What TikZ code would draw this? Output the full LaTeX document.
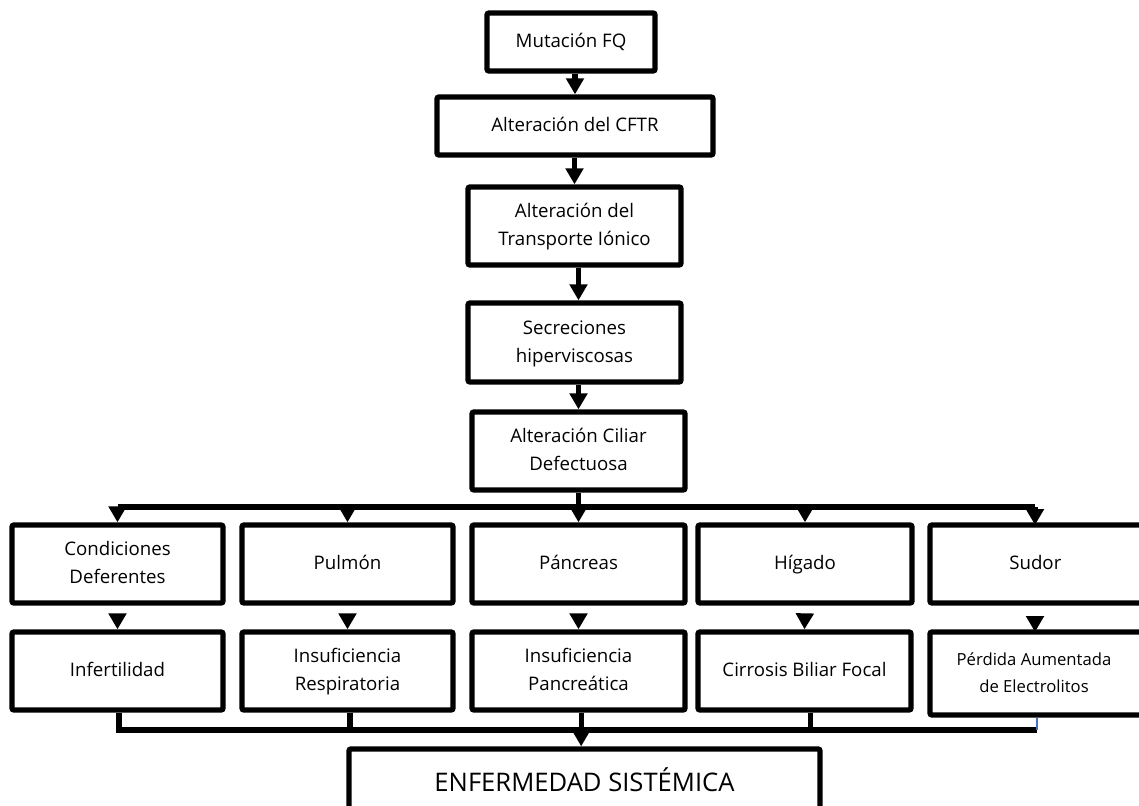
\documentclass[tikz,border=0pt]{standalone}
\usepackage{fontspec}
\setmainfont{Open Sans}
\usetikzlibrary{arrows.meta}
\begin{document}
\begin{tikzpicture}[x=0.75pt,y=-0.75pt,
  box/.style={draw=black,line width=4pt,rounded corners=1.5pt,fill=white,inner sep=0pt,align=center,
    font=\fontsize{14}{21}\selectfont},
  wire/.style={line width=3.8pt,draw=black},
  arr/.style={line width=3.8pt,draw=black,-{Triangle[width=13pt,length=12pt]}},
  thinblue/.style={line width=0.8pt,draw={rgb,255:red,68;green,114;blue,196}}
]
\useasboundingbox (0,0) rectangle (1139,806);
\clip (0,0) rectangle (1139,806);
% top chain
\node[box,minimum width=126pt,minimum height=43.5pt] (b1) at (571,42) {Mutación FQ\strut};
\node[box,minimum width=207pt,minimum height=43.5pt] (b2) at (575,126) {Alteración del CFTR\strut};
\node[box,minimum width=159.75pt,minimum height=58.5pt] (b3) at (574.5,226) {Alteración del\strut\\Transporte Iónico\strut};
\node[box,minimum width=159.75pt,minimum height=59.25pt] (b4) at (574.5,342.5) {Secreciones\strut\\hiperviscosas\strut};
\node[box,minimum width=159.75pt,minimum height=58.5pt] (b5) at (578.5,451) {Alteración Ciliar\strut\\Defectuosa\strut};
% row 1
\node[box,minimum width=158.25pt,minimum height=58.5pt] (c1) at (117.5,564) {Condiciones\strut\\Deferentes\strut};
\node[box,minimum width=158.25pt,minimum height=58.5pt] (c2) at (347.5,564) {Pulmón\strut};
\node[box,minimum width=159.75pt,minimum height=58.5pt] (c3) at (578.5,564) {Páncreas\strut};
\node[box,minimum width=160.5pt,minimum height=58.5pt] (c4) at (805,564) {Hígado\strut};
\node[box,minimum width=165pt,minimum height=58.5pt] (c5) at (1040,564) {\hspace*{-7pt}Sudor\strut};
% row 2
\node[box,minimum width=158.25pt,minimum height=58.5pt] (d1) at (117.5,671) {Infertilidad\strut};
\node[box,minimum width=158.25pt,minimum height=58.5pt] (d2) at (347.5,671) {Insuficiencia\strut\\Respiratoria\strut};
\node[box,minimum width=159.75pt,minimum height=58.5pt] (d3) at (578.5,671) {Insuficiencia\strut\\Pancreática\strut};
\node[box,minimum width=159.75pt,minimum height=58.5pt] (d4) at (804.5,671) {Cirrosis Biliar Focal\strut};
\node[box,minimum width=165pt,minimum height=62.25pt,font=\fontsize{12.5}{20}\selectfont] (d5) at (1040,673.5) {\hspace*{-9pt}Pérdida Aumentada\strut\\\hspace*{-9pt}de Electrolitos\strut};
% bottom
\node[box,minimum width=353.25pt,minimum height=49.5pt,font=\fontsize{19.2}{24}\selectfont] (e) at (584.5,782) {\raisebox{4pt}{ENFERMEDAD SISTÉMICA}};
% top arrows
\draw[arr] (b1.south -| b2.north) -- (b2.north);
\draw[arr] (b2.south -| b3.north) -- (b3.north);
\draw[arr] (b3.south -| b5.north) -- (b4.north -| b5.north);
\draw[arr] (b4.south -| b5.north) -- (b5.north);
% distribution bus
\coordinate (busL) at (117.5,507);
\coordinate (c5in) at (1035,525);
\draw[wire] (busL) -- (busL -| c5in);
\draw[arr] (busL) -- (c1.north);
\draw[arr] (c2.north |- busL) -- (c2.north);
\draw[arr] (b5.south) -- (c3.north);
\draw[arr] (c4.north |- busL) -- (c4.north);
\draw[arr] (c5in |- busL) -- (c5in);
% row 1 -> row 2
\draw[arr,shorten <=8pt] (c1.south) -- (d1.north);
\draw[arr,shorten <=8pt] (c2.south) -- (d2.north);
\draw[arr,shorten <=8pt] (c3.south) -- (d3.north);
\draw[arr,shorten <=8pt] (c4.south) -- (d4.north);
\coordinate (d5in) at (1035,632);
\draw[arr,shorten <=8pt] (c5in |- c5.south) -- (d5in);
% collection bus
\coordinate (busB) at (119,730);
\coordinate (busR) at (1037,730);
\draw[wire] (d1.south -| busB) -- (busB) -- (busR);
\draw[wire] (d2.south) ++(2.5,0) -- ++(0,20);
\draw[wire] ([xshift=4.5pt]d4.south) -- ([xshift=4.5pt]d4.south |- busB);
\draw[thinblue] (busR |- d5.south) -- (busR);
\draw[arr] ([xshift=2pt]d3.south) -- ([xshift=2pt]d3.south |- e.north);
\end{tikzpicture}
\end{document}
